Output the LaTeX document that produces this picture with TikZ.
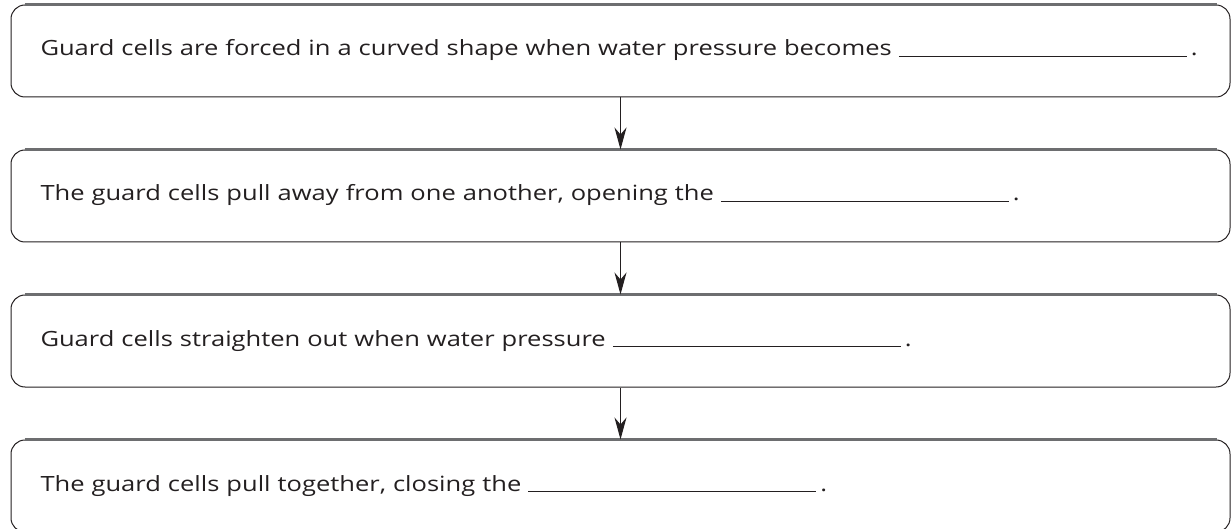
\documentclass[tikz,border=0pt]{standalone}
\usepackage{fontspec}
\setmainfont[FakeStretch=1.215]{Open Sans}
\usetikzlibrary{arrows.meta,positioning}
\definecolor{inkgray}{HTML}{231F20}
\definecolor{rimgray}{HTML}{6D6E70}
\newcommand{\blankline}{\rule[-1pt]{288pt}{1.3pt}\kern4pt.}

\begin{document}
\begin{tikzpicture}[x=1pt,y=-1pt,>=Stealth,line join=round,
    stepbox/.style={draw=inkgray,line width=1pt,rounded corners=14pt,
      minimum height=92pt,text width=1160pt,inner xsep=29.5pt,
      text height=17pt,text depth=7pt,
      align=left,text=inkgray,font=\fontsize{21}{25}\selectfont},
    toprim/.style={draw=rimgray,line width=2.4pt},
    flow/.style={->,draw=inkgray,line width=1.1pt,
      arrows={-Stealth[length=22pt,width=12pt,inset=7pt]}}]
    \useasboundingbox (0,0) rectangle (1231,529);

    % The four steps, stacked down the page.
    \node[stepbox] (fill1) at (620.5,51)
      {Guard cells are forced in a curved shape when water pressure becomes \blankline};
    \node[stepbox,below=52pt of fill1] (fill2)
      {The guard cells pull away from one another, opening the \blankline};
    \node[stepbox,below=52pt of fill2] (fill3)
      {Guard cells straighten out when water pressure \blankline};
    \node[stepbox,below=52pt of fill3] (fill4)
      {The guard cells pull together, closing the \blankline};

    % Heavier grey rim along the top of each box.
    \foreach \s in {fill1,fill2,fill3,fill4}
      \draw[toprim] ([xshift=14pt]\s.north west) -- ([xshift=-14pt]\s.north east);

    % Connectors between the steps.
    \draw[flow] (fill1) -- (fill2);
    \draw[flow] (fill2) -- (fill3);
    \draw[flow] (fill3) -- (fill4);
  \end{tikzpicture}
\end{document}
